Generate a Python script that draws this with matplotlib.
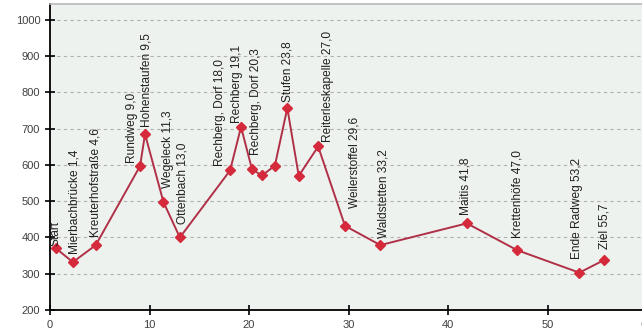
import matplotlib.pyplot as plt
import numpy as np

# Streckenprofil: Kilometer und Höhe (m ü. NN)
km = [0.6, 2.3, 4.6, 9.05, 9.55, 11.4, 13.05, 18.1, 19.2, 20.3, 21.3, 22.6,
      23.85, 25.0, 26.95, 29.65, 33.2, 41.9, 46.95, 53.2, 55.7]
hoehe = [370, 332, 379, 597, 685, 498, 400, 585, 705, 588, 571, 598,
         757, 570, 651, 432, 379, 439, 365, 303, 338]
namen = ["Start", "Mierbachbrücke 1,4", "Kreuterhofstraße 4,6", "Rundweg 9,0",
         "Hohenstaufen 9,5", "Wegeleck 11,3", "Ottenbach 13,0",
         "Rechberg, Dorf 18,0", "Rechberg 19,1", "Rechberg, Dorf 20,3", "", "",
         "Stufen 23,8", "", "Reiterleskapelle 27,0", "Weilerstoffel 29,6",
         "Waldstetten 33,2", "Maitis 41,8", "Krettenhöfe 47,0",
         "Ende Radweg 53,2", "Ziel 55,7"]

# Verschiebung der Beschriftungen (Punkte) gegenüber dem Marker
versatz = [(0, 2), (1, 6), (0, 6), (-6, 2), (1, 5), (3, 10), (2, 10),
           (-7, 3), (-3, 3), (3, 10), (0, 0), (0, 0), (0, 4), (0, 0),
           (7, 3), (7, 13), (2, 5), (-1, 6), (0, 9), (-2, 10), (0, 8)]

plt.rcParams['font.family'] = ['Liberation Sans', 'DejaVu Sans']

fig = plt.figure(figsize=(6.42, 3.36), dpi=100)
fig.patch.set_facecolor('white')
ax = fig.add_axes([50 / 642, 26 / 336, 597 / 642, 306 / 336])
ax.set_facecolor('#eef2ee')

ax.plot(km, hoehe, color='#b03048', linewidth=1.4, marker='D',
        markersize=5.5, markerfacecolor='#d42a3c', markeredgecolor='#d42a3c',
        zorder=3)

for x, y, name, (dx, dy) in zip(km, hoehe, namen, versatz):
    if not name:
        continue
    ax.annotate(name, (x, y), xytext=(dx, dy), textcoords='offset points',
                rotation=90, ha='center', va='bottom', fontsize=8.6,
                color='#202020')

ax.set_xlim(0, 60)
ax.set_ylim(200, 1044)
ax.set_xticks(np.arange(0, 61, 10))
ax.set_yticks(np.arange(200, 1001, 100))
ax.grid(axis='y', linestyle=(0, (3, 3)), color='#b0b0b0', linewidth=0.8)
ax.set_axisbelow(True)

for side in ('left', 'bottom'):
    ax.spines[side].set_color('black')
    ax.spines[side].set_linewidth(1.3)
ax.spines['top'].set_color('#b8b8b8')
ax.spines['top'].set_linewidth(1.2)
ax.spines['right'].set_visible(False)

ax.tick_params(direction='inout', length=7, width=1.2, colors='black',
               labelcolor='#404040', labelsize=8)
ax.tick_params(axis='x', pad=4)

fig.savefig('out.png', dpi=100)
